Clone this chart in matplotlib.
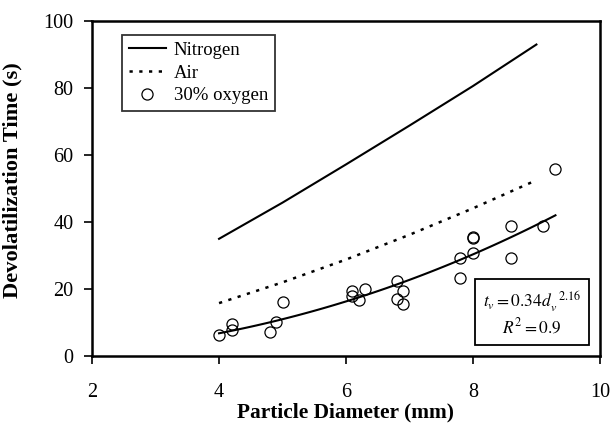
import numpy as np
import matplotlib
matplotlib.use("Agg")
import matplotlib.pyplot as plt

plt.rcParams['font.family'] = ['Liberation Serif', 'DejaVu Serif']
plt.rcParams['mathtext.fontset'] = 'stix'

# nitrogen and air correlations
d_n2 = [4, 5, 6, 7, 8, 9]
t_n2 = [35.0, 45.8, 57.2, 68.8, 80.6, 93.0]

d_air = [4, 5, 6, 7, 8, 9]
t_air = [15.8, 22.0, 28.8, 36.2, 44.1, 52.5]

# 30% oxygen measurements
d_o2 = [4.0, 4.2, 4.2, 4.8, 4.9, 5.0, 6.1, 6.1, 6.2, 6.3, 6.8, 6.8, 6.9, 6.9,
        7.8, 7.8, 8.0, 8.0, 8.0, 8.6, 8.6, 9.1, 9.3]
t_o2 = [6.4, 9.7, 7.7, 7.2, 10.1, 16.2, 19.5, 18.0, 16.8, 20.0, 22.5, 17.1, 19.5, 15.6,
        29.4, 23.3, 35.6, 35.3, 30.9, 38.9, 29.4, 38.9, 55.9]

# power-law fit t_v = a * d_v^b
fit_a = 0.34
fit_b = 2.16
fit_range = (4.0, 9.3)

fig = plt.figure(figsize=(6.14, 4.30), dpi=100)
ax = fig.add_axes([0.150, 0.172, 0.827, 0.779])

ax.plot(d_n2, t_n2, color='black', lw=1.5, label='Nitrogen')
ax.plot(d_air, t_air, color='black', lw=1.8, linestyle=(0, (1.3, 2.6)), label='Air')
ax.plot(d_o2, t_o2, linestyle='none', marker='o', markersize=8, markerfacecolor='none',
        markeredgecolor='black', markeredgewidth=0.9, label='30% oxygen')

dd = np.linspace(fit_range[0], fit_range[1], 100)
ax.plot(dd, fit_a * dd ** fit_b, color='black', lw=1.5)

ax.set_xlim(2, 10)
ax.set_ylim(0, 100)
ax.set_xticks([2, 4, 6, 8, 10])
ax.set_yticks([0, 20, 40, 60, 80, 100])
ax.tick_params(direction='out', length=6, width=1.2, labelsize=14.5)
ax.tick_params(axis='y', pad=7.5)
ax.tick_params(axis='x', pad=13.5)
for s in ax.spines.values():
    s.set_linewidth(1.8)

ax.set_xlabel('Particle Diameter (mm)', fontsize=15.4, fontweight='bold', labelpad=0)
ax.set_ylabel('Devolatilization Time (s)', fontsize=16.2, fontweight='bold')
ax.yaxis.set_label_coords(-0.137, 0.525)

leg = ax.legend(loc='upper left', bbox_to_anchor=(0.059, 0.958), fontsize=13.5,
                frameon=True, fancybox=False, edgecolor='black', handlelength=2.0,
                handletextpad=0.4, borderpad=0.35, labelspacing=0.3, borderaxespad=0)
leg.get_frame().set_linewidth(1.3)

ax.text(0.866, 0.127, '$t_v = 0.34d_v^{\\ \\ 2.16}$\n$R^2 = 0.9$', transform=ax.transAxes,
        ha='center', va='center', fontsize=12.5, multialignment='center',
        bbox=dict(boxstyle='square,pad=0.45', facecolor='white', edgecolor='black', lw=1.3))

fig.savefig('out.png', dpi=100)
